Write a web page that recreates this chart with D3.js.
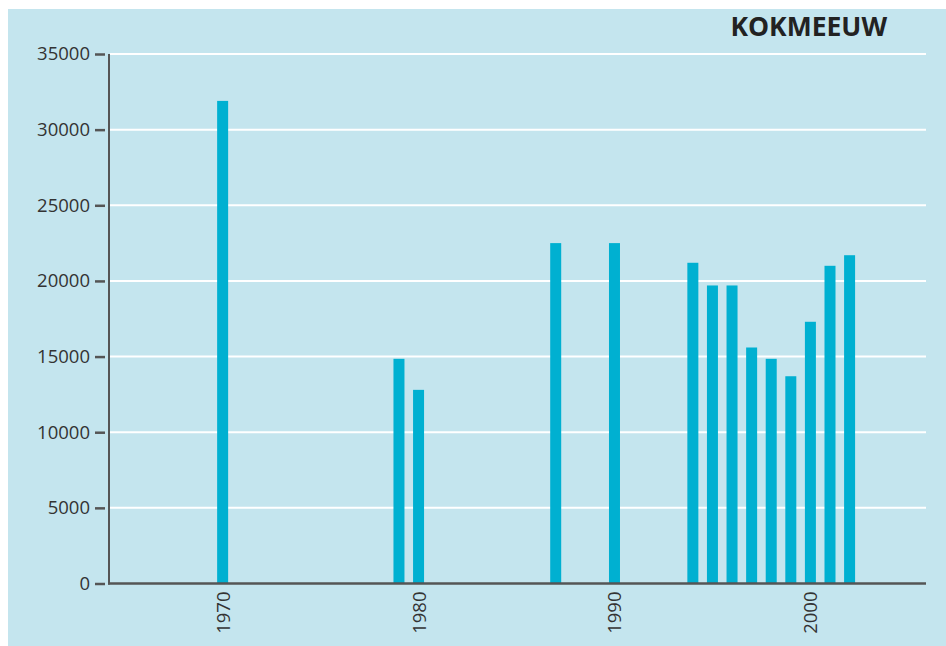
<!DOCTYPE html>
<html>
<head>
<meta charset="utf-8">
<script src="https://cdn.jsdelivr.net/npm/d3@7"></script>
<style>
  body { margin: 0; background: #fff; }
  svg { display: block; }
  text { font-family: "Open Sans", "Noto Sans", sans-serif; }
</style>
</head>
<body>
<svg id="chart"></svg>
<script>
// kokmeeuw counts per year
const years = [1970, 1979, 1980, 1987, 1990, 1994, 1995, 1996, 1997, 1998, 1999, 2000, 2001, 2002];
const counts = [31900, 14850, 12800, 22500, 22500, 21200, 19700, 19700, 15600, 14850, 13700, 17300, 21000, 21700];
const yTicks = [0, 5000, 10000, 15000, 20000, 25000, 30000, 35000];
const xTicks = [1970, 1980, 1990, 2000];
const title = 'KOKMEEUW';

const width = 946;
const height = 646;

let svg = d3.select('#chart')
    .attr('width', width)
    .attr('height', height);

svg.append('rect')
    .attr('x', 8)
    .attr('y', 9)
    .attr('width', width - 8)
    .attr('height', height - 9)
    .attr('fill', '#c4e5ee');

const x = d3.scaleLinear()
    .domain([1964.2, 2005.9])
    .range([109, 926]);

const y = d3.scaleLinear()
    .domain([0, 35000])
    .range([583.5, 54]);

// gridlines
svg.append('g')
    .selectAll('line')
    .data(yTicks.filter(d => d > 0))
    .enter()
    .append('line')
    .attr('x1', 110)
    .attr('x2', 926)
    .attr('y1', d => y(d))
    .attr('y2', d => y(d))
    .attr('stroke', '#fff')
    .attr('stroke-width', 2);

// bars
const barW = 11;
svg.append('g')
    .selectAll('rect')
    .data(years)
    .enter()
    .append('rect')
    .attr('x', d => x(d) - barW / 2)
    .attr('y', (d, i) => y(counts[i]))
    .attr('width', barW)
    .attr('height', (d, i) => y(0) - y(counts[i]))
    .attr('fill', '#00b0d1');

// y axis
const yAxis = d3.axisLeft(y)
    .tickValues(yTicks)
    .tickSize(0)
    .tickPadding(0)
    .tickFormat(d3.format('d'));

const gy = svg.append('g')
    .attr('transform', 'translate(109,0)')
    .call(yAxis);
gy.select('.domain').remove();
gy.selectAll('text')
    .attr('x', -19)
    .attr('font-size', 18.5)
    .attr('fill', '#333');
gy.selectAll('.tick')
    .append('line')
    .attr('x1', -14)
    .attr('x2', -4)
    .attr('stroke', '#555')
    .attr('stroke-width', 2.5);

svg.append('line')
    .attr('x1', 109)
    .attr('x2', 109)
    .attr('y1', y(35000))
    .attr('y2', y(0) + 1)
    .attr('stroke', '#555')
    .attr('stroke-width', 2);

// x axis
const xAxis = d3.axisBottom(x)
    .tickValues(xTicks)
    .tickSize(0)
    .tickFormat(d3.format('d'));

const gx = svg.append('g')
    .attr('transform', 'translate(0,' + y(0) + ')')
    .call(xAxis);
gx.select('.domain').remove();
gx.selectAll('text')
    .attr('transform', 'rotate(-90)')
    .attr('x', -8)
    .attr('y', 0)
    .attr('dy', '0.35em')
    .attr('text-anchor', 'end')
    .attr('font-size', 18.5)
    .attr('fill', '#333');

svg.append('line')
    .attr('x1', 108)
    .attr('x2', 926)
    .attr('y1', y(0))
    .attr('y2', y(0))
    .attr('stroke', '#555')
    .attr('stroke-width', 2.5);

svg.append('text')
    .attr('x', 887)
    .attr('y', 36)
    .attr('text-anchor', 'end')
    .attr('font-size', 26.5)
    .attr('font-weight', 'bold')
    .attr('fill', '#222')
    .text(title);
</script>
</body>
</html>
